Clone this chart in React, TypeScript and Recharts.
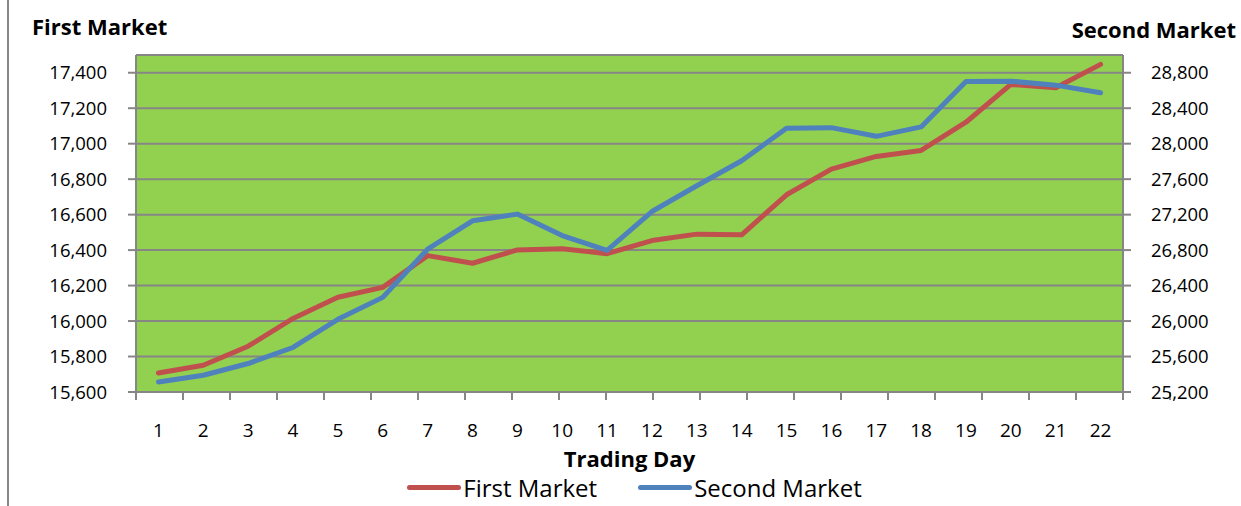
import { ComposedChart, Line, XAxis, YAxis, CartesianGrid, Legend } from 'recharts';

const days = ['1', '2', '3', '4', '5', '6', '7', '8', '9', '10', '11', '12', '13', '14', '15', '16', '17', '18', '19', '20', '21', '22'];
const firstMarket = [15707, 15751, 15858, 16015, 16134, 16190, 16369, 16326, 16401, 16408, 16380, 16454, 16490, 16486, 16712, 16857, 16928, 16962, 17121, 17334, 17315, 17447];
const secondMarket = [25313, 25389, 25521, 25702, 26019, 26267, 26810, 27130, 27206, 26964, 26798, 27235, 27526, 27808, 28173, 28181, 28083, 28189, 28701, 28705, 28660, 28574];

const leftTicks = [15600, 15800, 16000, 16200, 16400, 16600, 16800, 17000, 17200, 17400];
const rightTicks = [25200, 25600, 26000, 26400, 26800, 27200, 27600, 28000, 28400, 28800];
const boundaryTicks = Array.from({ length: 23 }, (_, i) => i);

const data = days.map((d, i) => ({
  day: d,
  'First Market': firstMarket[i],
  'Second Market': secondMarket[i],
}));

const FONT = '"Open Sans", sans-serif';
const GRAY = '#868686';
const fmt = (v: number) => v.toLocaleString('en-US');

const renderLegend = (props: any) => {
  const { payload } = props;
  return (
    <div style={{ display: 'flex', justifyContent: 'center', alignItems: 'center', height: 30, paddingLeft: 28, fontFamily: FONT, fontSize: 24, color: '#000' }}>
      {payload.map((p: any, i: number) => (
        <div key={p.value} style={{ display: 'flex', alignItems: 'center', marginLeft: i === 0 ? 0 : 41 }}>
          <span style={{ display: 'inline-block', width: 54, height: 5, borderRadius: 3, background: p.color, marginRight: 2 }} />
          <span>{p.value}</span>
        </div>
      ))}
    </div>
  );
};

export default function App() {
  return (
    <div style={{ position: 'absolute', left: 0, top: 0, width: 1241, height: 506, background: '#fff' }}>
      <div style={{ position: 'absolute', left: 7, top: 0, width: 2, height: 506, background: GRAY }} />
      <ComposedChart
        width={1241}
        height={506}
        data={data}
        margin={{ top: 55, right: 0, bottom: 4, left: 0 }}
        style={{ fontFamily: FONT }}
      >
        <CartesianGrid xAxisId={1} yAxisId="left" vertical={false} fill="#92D050" fillOpacity={1} stroke={GRAY} strokeWidth={2} />
        {/* tick marks sit on the category boundaries, like Excel */}
        <XAxis
          xAxisId={0}
          type="number"
          domain={[0, 22]}
          ticks={boundaryTicks}
          allowDataOverflow
          height={1}
          tickSize={8}
          tickFormatter={() => ''}
          axisLine={{ stroke: GRAY, strokeWidth: 2 }}
          tickLine={{ stroke: GRAY, strokeWidth: 2 }}
        />
        <XAxis
          xAxisId={1}
          dataKey="day"
          scale="band"
          height={79}
          axisLine={false}
          tickLine={false}
          tickSize={0}
          interval={0}
          tickMargin={31}
          tick={{ fill: '#000', fontSize: 19, fontFamily: FONT }}
          label={(p: any) => (
            <text
              x={p.viewBox.x + p.viewBox.width / 2}
              y={p.viewBox.y + 74}
              textAnchor="middle"
              fontFamily={FONT}
              fontWeight="bold"
              fontSize={22}
              fill="#000"
            >
              Trading Day
            </text>
          )}
        />
        <YAxis
          yAxisId="left"
          width={136}
          domain={[15600, 17500]}
          ticks={leftTicks}
          allowDataOverflow
          tickFormatter={fmt}
          tickSize={8}
          tickMargin={21}
          axisLine={{ stroke: GRAY, strokeWidth: 2 }}
          tickLine={{ stroke: GRAY, strokeWidth: 2 }}
          tick={{ fill: '#000', fontSize: 18.5, fontFamily: FONT }}
          label={(p: any) => (
            <text x={p.viewBox.x + 32} y={p.viewBox.y - 20} fontFamily={FONT} fontWeight="bold" fontSize={22} fill="#000">
              First Market
            </text>
          )}
        />
        <YAxis
          yAxisId="right"
          orientation="right"
          width={118}
          domain={[25200, 29000]}
          ticks={rightTicks}
          allowDataOverflow
          tickFormatter={fmt}
          tickSize={8}
          tickMargin={20}
          axisLine={{ stroke: GRAY, strokeWidth: 2 }}
          tickLine={{ stroke: GRAY, strokeWidth: 2 }}
          tick={{ fill: '#000', fontSize: 18.5, fontFamily: FONT }}
          label={(p: any) => (
            <text
              x={p.viewBox.x + p.viewBox.width - 5}
              y={p.viewBox.y - 17}
              textAnchor="end"
              fontFamily={FONT}
              fontWeight="bold"
              fontSize={22}
              fill="#000"
            >
              Second Market
            </text>
          )}
        />
        <Legend verticalAlign="bottom" height={30} content={renderLegend} />
        <Line
          xAxisId={1}
          yAxisId="left"
          type="linear"
          dataKey="First Market"
          stroke="#C0504D"
          strokeWidth={5}
          strokeLinecap="round"
          strokeLinejoin="round"
          dot={false}
          isAnimationActive={false}
        />
        <Line
          xAxisId={1}
          yAxisId="right"
          type="linear"
          dataKey="Second Market"
          stroke="#4F81BD"
          strokeWidth={5}
          strokeLinecap="round"
          strokeLinejoin="round"
          dot={false}
          isAnimationActive={false}
        />
      </ComposedChart>
    </div>
  );
}
